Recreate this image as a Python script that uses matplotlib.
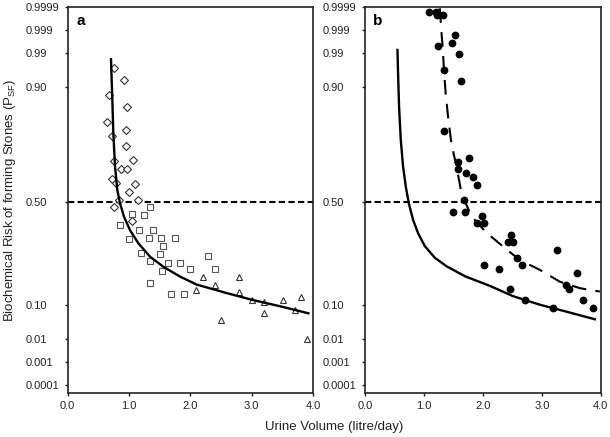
import numpy as np
import matplotlib
matplotlib.use("Agg")
import matplotlib.pyplot as plt
from matplotlib.ticker import FixedLocator, NullLocator

plt.rcParams["font.family"] = ["Liberation Sans", "DejaVu Sans"]
plt.rcParams["mathtext.fontset"] = "custom"
plt.rcParams["mathtext.rm"] = "Liberation Sans"

# probability ticks of the risk axis (non-linear, piecewise scale)
YTICKS = [0.0001, 0.001, 0.01, 0.10, 0.50, 0.90, 0.99, 0.999, 0.9999]
YTICKLABELS = ["0.0001", "0.001", "0.01", "0.10", "0.50", "0.90", "0.99", "0.999", "0.9999"]
XTICKS = [0.0, 1.0, 2.0, 3.0, 4.0]
# anchor heights of the scale (arbitrary units, bottom = 0)
SCALE_P = [0.0] + YTICKS + [1.0]
SCALE_H = [0.0, 7.7, 30.4, 53.4, 87.7, 191.0, 305.7, 340.0, 362.7, 385.4, 393.0]

# panel a
dia_x = [0.755, 0.923, 0.679, 0.962, 0.646, 0.951, 0.723, 0.956, 0.750, 1.060, 0.865,
         0.972, 0.718, 0.783, 1.103, 0.995, 0.837, 1.147, 0.763, 1.054]
dia_y = [0.949, 0.917, 0.871, 0.830, 0.777, 0.750, 0.728, 0.695, 0.642, 0.645, 0.615,
         0.615, 0.580, 0.565, 0.562, 0.534, 0.507, 0.507, 0.478, 0.425]
sq_x = [1.338, 1.245, 1.044, 0.853, 1.158, 1.396, 0.995, 1.321, 1.527, 1.746, 1.550, 1.201,
        1.501, 1.347, 1.636, 1.827, 2.289, 2.000, 2.403, 1.543, 1.338, 1.680, 1.897]
sq_y = [0.479, 0.448, 0.452, 0.410, 0.389, 0.389, 0.357, 0.359, 0.359, 0.359, 0.330, 0.301,
        0.299, 0.269, 0.261, 0.264, 0.291, 0.239, 0.239, 0.232, 0.184, 0.141, 0.141]
tri_x = [2.088, 2.202, 2.403, 2.799, 2.799, 2.501, 3.002, 3.202, 3.202, 3.507, 3.713, 3.806, 3.909]
tri_y = [0.159, 0.207, 0.177, 0.207, 0.149, 0.0614, 0.119, 0.110, 0.0782, 0.119, 0.0869, 0.132, 0.0108]
fit_a_x = [0.706, 0.728, 0.744, 0.772, 0.809, 0.853, 0.918, 1.016, 1.152, 1.343, 1.560,
           1.832, 2.104, 2.594, 3.023, 3.512, 3.925]
fit_a_y = [0.9727, 0.855, 0.739, 0.622, 0.541, 0.494, 0.442, 0.390, 0.339, 0.287, 0.248,
           0.210, 0.179, 0.146, 0.119, 0.0948, 0.0782]

# panel b
dot_x = [1.090, 1.203, 1.225, 1.327, 1.531, 1.475, 1.249, 1.598, 1.344, 1.622, 1.344, 1.774,
         1.588, 1.581, 1.717, 1.831, 1.904, 1.678, 1.497, 1.690, 1.978, 1.898, 2.022, 2.486,
         2.429, 2.503, 3.249, 2.581, 2.012, 2.666, 2.276, 3.593, 3.407, 3.453, 2.458, 2.717,
         3.695, 3.181, 3.869]
dot_y = [0.99971, 0.99971, 0.99958, 0.99958, 0.99714, 0.99396, 0.99254, 0.9866, 0.9454, 0.9157,
         0.747, 0.653, 0.639, 0.613, 0.599, 0.586, 0.559, 0.505, 0.461, 0.461, 0.445, 0.416,
         0.416, 0.372, 0.343, 0.343, 0.313, 0.283, 0.254, 0.254, 0.238, 0.223, 0.177, 0.163,
         0.163, 0.119, 0.119, 0.0913, 0.0913]
dash_b_x = [1.271, 1.297, 1.322, 1.347, 1.373, 1.412, 1.469, 1.554, 1.639, 1.808, 2.063,
            2.344, 2.627, 2.966, 3.305, 3.644, 3.983]
dash_b_y = [0.99986, 0.999, 0.9911, 0.9315, 0.872, 0.795, 0.701, 0.623, 0.529, 0.443, 0.380,
            0.326, 0.274, 0.236, 0.190, 0.165, 0.152]
fit_b_x = [0.554, 0.564, 0.581, 0.610, 0.649, 0.695, 0.746, 0.819, 0.903, 1.017, 1.186,
           1.385, 1.700, 2.119, 2.514, 2.966, 3.419, 3.898]
fit_b_y = [0.99107, 0.936, 0.831, 0.715, 0.622, 0.552, 0.494, 0.429, 0.378, 0.328, 0.283,
           0.250, 0.211, 0.174, 0.134, 0.101, 0.0824, 0.0625]


def fwd(p):
    return np.interp(p, SCALE_P, SCALE_H)


def inv(h):
    return np.interp(h, SCALE_H, SCALE_P)


fig = plt.figure(figsize=(6.1, 4.37), dpi=100)
axa = fig.add_axes([0.111, 0.1014, 0.402, 0.882])
axb = fig.add_axes([0.598, 0.1014, 0.387, 0.882])

for ax, lab in ((axa, "a"), (axb, "b")):
    ax.set_yscale("function", functions=(fwd, inv))
    ax.set_ylim(0.0, 0.9999)
    ax.set_xlim(0.0, 4.0)
    ax.yaxis.set_major_locator(FixedLocator(YTICKS))
    ax.yaxis.set_minor_locator(NullLocator())
    ax.set_yticklabels(YTICKLABELS)
    ax.set_xticks(XTICKS)
    ax.set_xticklabels([f"{v:.1f}" for v in XTICKS])
    ax.tick_params(axis="both", direction="out", length=2.5, width=1.0, labelsize=8,
                   colors="#222222")
    ax.tick_params(axis="y", pad=27.5)
    for t in ax.get_yticklabels():
        t.set_horizontalalignment("left")
    for s in ax.spines.values():
        s.set_linewidth(1.2)
        s.set_color("#222222")
    ax.axhline(0.5, color="black", lw=1.5, ls=(0, (3.0, 1.6)), zorder=1)
    ax.text(0.035, 0.965, lab, transform=ax.transAxes, fontsize=11, fontweight="bold",
            va="center", ha="left")

axa.plot(fit_a_x, fit_a_y, color="black", lw=1.7, zorder=3)
axa.plot(dia_x, dia_y, ls="none", marker="D", ms=4.0, mfc="white", mec="#333333", mew=0.8, zorder=2)
axa.plot(sq_x, sq_y, ls="none", marker="s", ms=4.3, mfc="white", mec="#555555", mew=0.8, zorder=2)
axa.plot(tri_x, tri_y, ls="none", marker="^", ms=4.8, mfc="white", mec="#333333", mew=0.8, zorder=2)

axb.plot(fit_b_x, fit_b_y, color="black", lw=1.7, zorder=3)
axb.plot(dash_b_x, dash_b_y, color="black", lw=1.5, ls=(0, (7, 4.5)), zorder=3)
axb.plot(dot_x, dot_y, ls="none", marker="o", ms=4.6, color="black", zorder=2)

fig.text(0.016, 0.5425, "Biochemical Risk of forming Stones (P$_{\\mathrm{SF}}$)", rotation=90,
         ha="center", va="center", fontsize=9.5, color="#222222")
fig.text(0.547, 0.023, "Urine Volume (litre/day)", ha="center", va="center", fontsize=9.5,
         color="#222222")

fig.savefig("out.png", dpi=100)
